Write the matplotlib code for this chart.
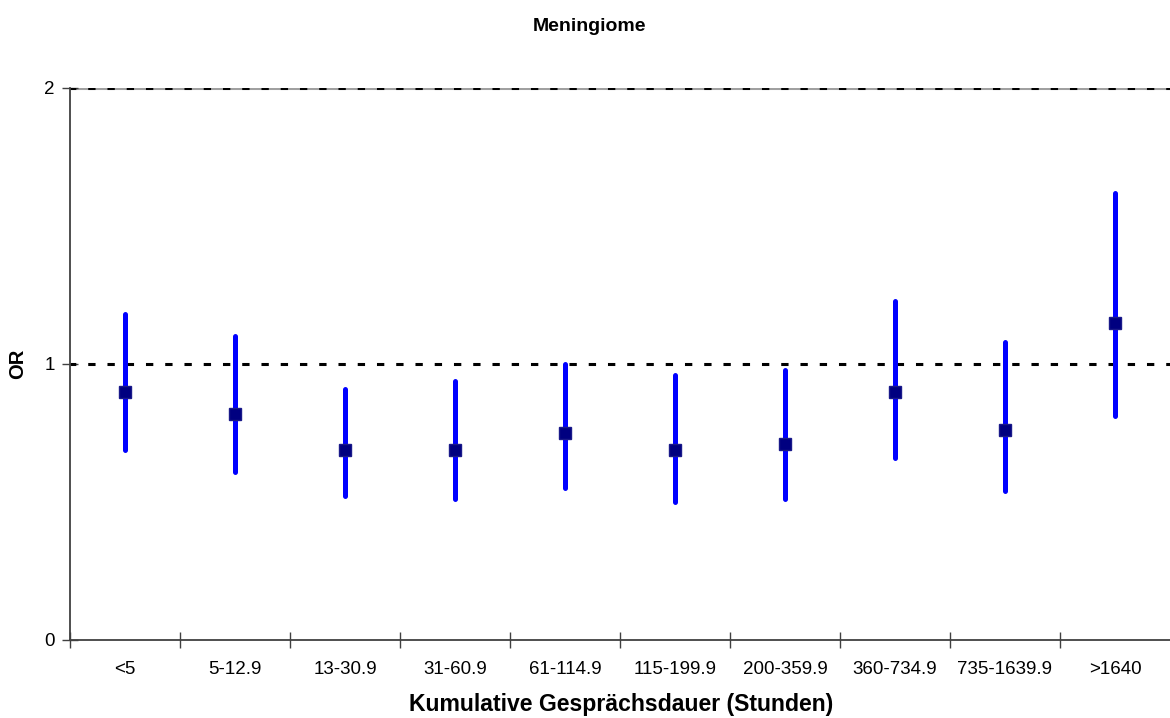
# coding=utf-8
"""Odds ratios for meningioma by cumulative call duration."""

# Third party imports:
import matplotlib.pyplot as plt

categories = ["<5", "5-12.9", "13-30.9", "31-60.9", "61-114.9", "115-199.9",
              "200-359.9", "360-734.9", "735-1639.9", ">1640"]
odds_ratio = [0.90, 0.82, 0.69, 0.69, 0.75, 0.69, 0.71, 0.90, 0.76, 1.15]
ci_lower = [0.69, 0.61, 0.52, 0.51, 0.55, 0.50, 0.51, 0.66, 0.54, 0.81]
ci_upper = [1.18, 1.10, 0.91, 0.94, 1.00, 0.96, 0.98, 1.23, 1.08, 1.62]
y_ticks = [0, 1, 2]

plt.rcParams["font.family"] = ["Liberation Sans", "DejaVu Sans"]

# Create plot:
fig = plt.figure(figsize=(11.7, 7.18), dpi=100)
ax = fig.add_axes([70 / 1170, 78 / 718, 1100 / 1170, 552 / 718])
positions = list(range(1, len(categories) + 1))

# Reference lines:
ax.axhline(2, color="#a0a0a0", linewidth=2.2, zorder=1)
ax.axhline(2, color="black", linewidth=2.2, linestyle=(0.5, (2.4, 3.9)), zorder=2)
ax.axhline(1, color="black", linewidth=2.2, linestyle=(0.5, (2.4, 3.9)), zorder=2)

# Confidence intervals and point estimates:
ax.vlines(positions, ci_lower, ci_upper, color="#0000ff", linewidth=3.6,
          capstyle="round", zorder=3)
ax.plot(positions, odds_ratio, linestyle="none", marker="s", markersize=8.8,
        markerfacecolor="#000080", markeredgecolor="#1a1a8a", zorder=4)

# Axes styling:
ax.set_xlim(0.5, len(categories) + 0.5)
ax.set_ylim(0, 2)
ax.set_yticks(y_ticks)
ax.set_yticklabels([str(v) for v in y_ticks], fontsize=13.5)
ax.set_xticks([p - 0.5 for p in positions])
ax.set_xticklabels([])
ax.set_xticks(positions, minor=True)
ax.set_xticklabels(categories, minor=True, fontsize=13.5)
ax.tick_params(axis="x", which="major", direction="inout", length=12,
               width=1, color="#404040")
ax.tick_params(axis="x", which="minor", length=0, pad=15)
ax.tick_params(axis="y", direction="inout", length=12, width=1,
               color="#404040", pad=5)
for side in ("top", "right"):
    ax.spines[side].set_visible(False)
for side in ("left", "bottom"):
    ax.spines[side].set_color("#404040")
    ax.spines[side].set_linewidth(1.3)

# Texts:
fig.text(589 / 1170, 1 - 31 / 718, "Meningiome", ha="center", va="baseline",
         fontsize=14, fontweight="bold")
fig.text(621 / 1170, 1 - 711 / 718, "Kumulative Gesprächsdauer (Stunden)",
         ha="center", va="baseline", fontsize=16.6, fontweight="bold")
fig.text(18 / 1170, 1 - 364 / 718, "OR", ha="center", va="center",
         rotation=90, fontsize=14.5, fontweight="bold")

fig.savefig("out.png", dpi=100)
